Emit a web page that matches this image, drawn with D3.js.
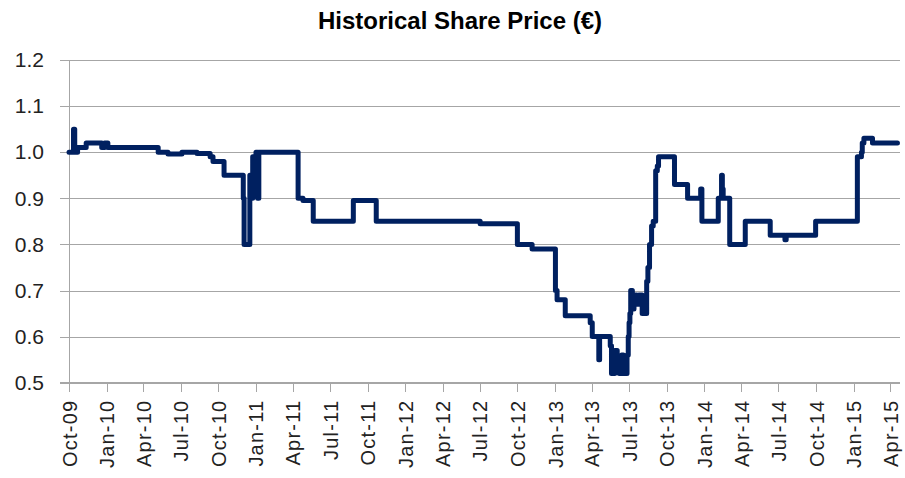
<!DOCTYPE html>
<html>
<head>
<meta charset="utf-8">
<script src="https://cdn.jsdelivr.net/npm/d3@7"></script>
<style>
	body { margin: 0; background: #fff; }
	#chart { width: 905px; height: 478px; }
</style>
</head>
<body>
<div id="chart"></div>
<script>
/************** Historical share price **************/

var chartTitle = 'Historical Share Price (€)';

var dates = [
	'2009-10-01', '2009-10-12', '2009-10-15', '2009-10-22', '2009-11-12', '2009-12-20', '2009-12-27',
	'2010-01-04', '2010-05-07', '2010-05-31', '2010-07-04', '2010-08-10', '2010-09-11', '2010-09-18',
	'2010-10-15', '2010-12-01', '2010-12-03', '2010-12-17', '2010-12-21', '2010-12-24', '2011-01-01',
	'2011-01-05', '2011-01-08', '2011-04-14', '2011-04-26', '2011-05-21', '2011-08-27', '2011-10-22',
	'2012-07-02', '2012-10-01', '2012-11-06', '2013-01-02', '2013-01-06', '2013-01-26', '2013-03-28',
	'2013-04-02', '2013-04-18', '2013-04-20', '2013-05-16', '2013-05-19', '2013-05-27', '2013-06-02',
	'2013-06-07', '2013-06-13', '2013-06-17', '2013-06-26', '2013-06-29', '2013-07-01', '2013-07-03',
	'2013-07-05', '2013-07-09', '2013-07-13', '2013-07-20', '2013-07-25', '2013-08-02', '2013-08-13',
	'2013-08-16', '2013-08-20', '2013-08-25', '2013-08-29', '2013-09-04', '2013-09-08', '2013-09-11',
	'2013-10-20', '2013-11-21', '2013-12-23', '2013-12-26', '2014-02-04', '2014-02-12', '2014-02-14',
	'2014-02-16', '2014-03-04', '2014-04-11', '2014-06-11', '2014-07-17', '2014-07-20', '2014-09-30',
	'2015-01-10', '2015-01-20', '2015-01-22', '2015-01-26', '2015-02-16', '2015-04-18'
];

var prices = [
	1.00, 1.05, 1.00, 1.01, 1.02, 1.01, 1.02,
	1.01, 1.00, 0.996, 1.00, 0.997, 0.99, 0.98,
	0.95, 0.90, 0.80, 0.95, 0.90, 0.99, 1.00,
	0.90, 1.00, 0.90, 0.895, 0.85, 0.895, 0.85,
	0.845, 0.80, 0.79, 0.70, 0.68, 0.645, 0.63,
	0.60, 0.55, 0.60, 0.58, 0.52, 0.57, 0.55,
	0.52, 0.56, 0.52, 0.56, 0.60, 0.63, 0.65,
	0.70, 0.66, 0.69, 0.67, 0.69, 0.65, 0.72,
	0.75, 0.80, 0.84, 0.85, 0.96, 0.97, 0.99,
	0.93, 0.90, 0.92, 0.85, 0.90, 0.95, 0.92,
	0.90, 0.80, 0.85, 0.82, 0.81, 0.82, 0.85,
	0.99, 1.00, 1.02, 1.03, 1.02, 1.02
];

var yTicks = [0.5, 0.6, 0.7, 0.8, 0.9, 1.0, 1.1, 1.2];
var xStart = '2009-10-01';
var xEnd = '2015-04-23';

var width = 905;
var height = 478;
var plotLeft = 69, plotRight = 899.5, plotTop = 60, plotBottom = 382.7;
var lineColor = '#002060';
var gridColor = '#a6a6a6';
var parseDate = d3.timeParse('%Y-%m-%d');

var data = dates.map(function (d, i) { return { date: parseDate(d), price: prices[i] }; });

var svg = d3.select('#chart')
	.append('svg')
	.attr('width', width)
	.attr('height', height)
	.style('font-family', '"Liberation Sans", Arial, sans-serif');

var x = d3.scaleTime()
	.domain([parseDate(xStart), parseDate(xEnd)])
	.range([plotLeft, plotRight]);

var y = d3.scaleLinear()
	.domain([0.5, 1.2])
	.range([plotBottom, plotTop]);

// title
svg.append('text')
	.attr('x', 460)
	.attr('y', 29)
	.attr('text-anchor', 'middle')
	.style('font-size', '24px')
	.style('font-weight', 'bold')
	.style('fill', '#000')
	.text(chartTitle);

// horizontal gridlines + y labels
var yAxis = svg.append('g')
	.attr('transform', 'translate(' + plotLeft + ',0)')
	.call(d3.axisLeft(y).tickValues(yTicks).tickFormat(d3.format('.1f'))
		.tickSizeInner(-(plotRight - plotLeft)).tickSizeOuter(0).tickPadding(25));
yAxis.select('.domain').remove();
yAxis.selectAll('.tick line')
	.attr('x1', -9)
	.attr('stroke', gridColor)
	.attr('shape-rendering', 'crispEdges');
yAxis.selectAll('.tick text')
	.style('font-size', '21px')
	.style('font-family', '"Liberation Sans", Arial, sans-serif')
	.attr('fill', '#222');

// y axis line
svg.append('line')
	.attr('x1', plotLeft).attr('x2', plotLeft)
	.attr('y1', plotTop).attr('y2', plotBottom)
	.attr('stroke', gridColor)
	.attr('shape-rendering', 'crispEdges');

// x axis
var xAxis = svg.append('g')
	.attr('transform', 'translate(0,' + plotBottom + ')')
	.call(d3.axisBottom(x).ticks(d3.timeMonth.every(3)).tickFormat(d3.timeFormat('%b-%y'))
		.tickSizeInner(9).tickSizeOuter(0));
xAxis.select('.domain')
	.attr('stroke', gridColor)
	.attr('d', 'M' + (plotLeft - 9) + ',0H' + plotRight)
	.attr('shape-rendering', 'crispEdges');
xAxis.selectAll('.tick line')
	.attr('stroke', gridColor)
	.attr('shape-rendering', 'crispEdges');
xAxis.selectAll('.tick text')
	.attr('transform', 'rotate(-90)')
	.attr('x', -17)
	.attr('y', 0)
	.attr('dy', '0.35em')
	.style('text-anchor', 'end')
	.style('font-size', '20px')
	.style('letter-spacing', '1.2px')
	.style('font-family', '"Liberation Sans", Arial, sans-serif')
	.attr('fill', '#222');

// price line
var line = d3.line()
	.curve(d3.curveStepAfter)
	.x(function (d) { return x(d.date); })
	.y(function (d) { return y(d.price); });

svg.append('path')
	.datum(data)
	.attr('d', line)
	.attr('fill', 'none')
	.attr('stroke', lineColor)
	.attr('stroke-width', 5)
	.attr('stroke-linejoin', 'round')
	.attr('stroke-linecap', 'round');
</script>
</body>
</html>
